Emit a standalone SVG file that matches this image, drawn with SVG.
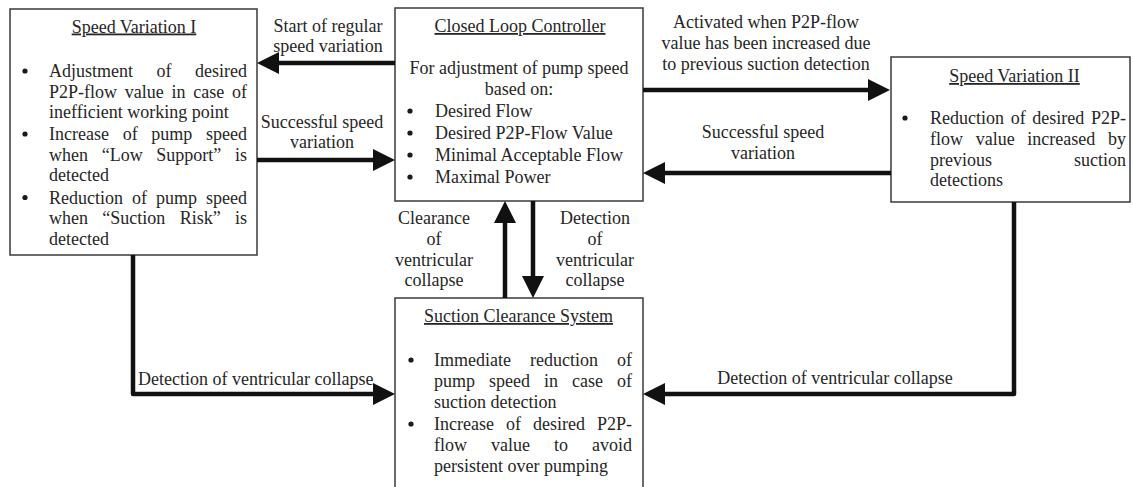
<svg xmlns="http://www.w3.org/2000/svg" width="1133" height="487" viewBox="0 0 1133 487">
  <style>
    text { font-family: "Liberation Serif", "Times New Roman", serif; font-size: 18px; fill: #262626; }
    .title { text-anchor: middle; text-decoration: underline; }
    .mid { text-anchor: middle; }
    .end { text-anchor: end; }
    .box { fill: #ffffff; stroke: #3a3a3a; stroke-width: 1.5; }
    .bullet { fill: #1a1a1a; }
    .conn { fill: none; stroke: #111111; stroke-width: 4.5; stroke-linejoin: round; }
  </style>
  <defs>
    <marker id="head" markerUnits="userSpaceOnUse" markerWidth="22" markerHeight="22" refX="12" refY="11" orient="auto">
      <path d="M0,0 L22,11 L0,22 Z" fill="#111111"/>
    </marker>
  </defs>
  <rect width="1133" height="487" fill="#ffffff"/>

  <!-- Speed Variation I -->
  <g id="speed-variation-1">
    <rect class="box" x="10" y="9" width="247" height="246"/>
    <text class="title" x="134" y="32.5">Speed Variation I</text>
    <circle class="bullet" cx="25" cy="71" r="2.6"/>
    <text y="77"><tspan x="49">Adjustment</tspan><tspan x="156.5">of</tspan></text>
    <text class="end" x="247" y="77">desired</text>
    <text y="97.5"><tspan x="49">P2P-flow</tspan><tspan x="124.75">value</tspan><tspan x="171.5">in</tspan><tspan x="193.25">case</tspan></text>
    <text class="end" x="247" y="97.5">of</text>
    <text x="49" y="118">inefficient working point</text>
    <circle class="bullet" cx="25" cy="134" r="2.6"/>
    <text y="140"><tspan x="49">Increase</tspan><tspan x="122.67">of</tspan><tspan x="151.33">pump</tspan></text>
    <text class="end" x="247" y="140">speed</text>
    <text y="160.5"><tspan x="49">when</tspan><tspan x="101.67">“Low</tspan><tspan x="156.33">Support”</tspan></text>
    <text class="end" x="247" y="160.5">is</text>
    <text x="49" y="181">detected</text>
    <circle class="bullet" cx="25" cy="197.5" r="2.6"/>
    <text y="203.5"><tspan x="49">Reduction</tspan><tspan x="132">of</tspan><tspan x="156">pump</tspan></text>
    <text class="end" x="247" y="203.5">speed</text>
    <text y="224"><tspan x="49">when</tspan><tspan x="102.33">“Suction</tspan><tspan x="179.67">Risk”</tspan></text>
    <text class="end" x="247" y="224">is</text>
    <text x="49" y="244.5">detected</text>
  </g>

  <!-- Closed Loop Controller -->
  <g id="closed-loop-controller">
    <rect class="box" x="395" y="8" width="248" height="193"/>
    <text class="title" x="520" y="32">Closed Loop Controller</text>
    <text class="mid" x="519" y="74">For adjustment of pump speed</text>
    <text class="mid" x="519" y="95">based on:</text>
    <circle class="bullet" cx="410" cy="111" r="2.6"/>
    <text x="435" y="117">Desired Flow</text>
    <circle class="bullet" cx="410" cy="133" r="2.6"/>
    <text x="435" y="139">Desired P2P-Flow Value</text>
    <circle class="bullet" cx="410" cy="155" r="2.6"/>
    <text x="435" y="161">Minimal Acceptable Flow</text>
    <circle class="bullet" cx="410" cy="177" r="2.6"/>
    <text x="435" y="183">Maximal Power</text>
  </g>

  <!-- Speed Variation II -->
  <g id="speed-variation-2">
    <rect class="box" x="891" y="57" width="239" height="145"/>
    <text class="title" x="1014.5" y="82">Speed Variation II</text>
    <circle class="bullet" cx="905" cy="118" r="2.6"/>
    <text y="124"><tspan x="930">Reduction</tspan><tspan x="1010.67">of</tspan><tspan x="1032.33">desired</tspan></text>
    <text class="end" x="1126" y="124">P2P-</text>
    <text y="145"><tspan x="930">flow</tspan><tspan x="975.67">value</tspan><tspan x="1027.33">increased</tspan></text>
    <text class="end" x="1126" y="145">by</text>
    <text x="930" y="165.5">previous</text>
    <text class="end" x="1126" y="165.5">suction</text>
    <text x="930" y="186">detections</text>
  </g>

  <!-- Suction Clearance System -->
  <g id="suction-clearance-system">
    <rect class="box" x="395" y="298" width="248" height="200"/>
    <text class="title" x="518.5" y="322">Suction Clearance System</text>
    <circle class="bullet" cx="411" cy="360" r="2.6"/>
    <text y="366"><tspan x="434">Immediate</tspan><tspan x="530">reduction</tspan></text>
    <text class="end" x="632" y="366">of</text>
    <text y="387"><tspan x="434">pump</tspan><tspan x="489">speed</tspan><tspan x="544">in</tspan><tspan x="572">case</tspan></text>
    <text class="end" x="632" y="387">of</text>
    <text x="434" y="407.5">suction detection</text>
    <circle class="bullet" cx="411" cy="424" r="2.6"/>
    <text y="430"><tspan x="434">Increase</tspan><tspan x="506">of</tspan><tspan x="533">desired</tspan></text>
    <text class="end" x="632" y="430">P2P-</text>
    <text y="451"><tspan x="434">flow</tspan><tspan x="491">value</tspan><tspan x="554">to</tspan></text>
    <text class="end" x="632" y="451">avoid</text>
    <text x="434" y="472">persistent over pumping</text>
  </g>

  <!-- Connectors -->
  <g id="connectors">
    <path class="conn" d="M395,63 L267,63" marker-end="url(#head)"/>
    <path class="conn" d="M257,160 L385,160" marker-end="url(#head)"/>
    <path class="conn" d="M643,90 L880,90" marker-end="url(#head)"/>
    <path class="conn" d="M891,173 L653,173" marker-end="url(#head)"/>
    <path class="conn" d="M505,298 L505,211" marker-end="url(#head)"/>
    <path class="conn" d="M533,201 L533,288" marker-end="url(#head)"/>
    <path class="conn" d="M133,255 L133,394 L385,394" marker-end="url(#head)"/>
    <path class="conn" d="M1014,202 L1014,394 L653,394" marker-end="url(#head)"/>
  </g>

  <!-- Connector labels -->
  <g id="connector-labels">
    <text class="mid" x="328" y="32">Start of regular</text>
    <text class="mid" x="328" y="52">speed variation</text>
    <text class="mid" x="322" y="128">Successful speed</text>
    <text class="mid" x="322" y="148">variation</text>
    <text class="mid" x="766" y="28">Activated when P2P-flow</text>
    <text class="mid" x="766" y="49">value has been increased due</text>
    <text class="mid" x="766" y="70">to previous suction detection</text>
    <text class="mid" x="763" y="138">Successful speed</text>
    <text class="mid" x="763" y="159">variation</text>
    <text class="mid" x="434" y="224">Clearance</text>
    <text class="mid" x="434" y="245">of</text>
    <text class="mid" x="434" y="266">ventricular</text>
    <text class="mid" x="434" y="286">collapse</text>
    <text class="mid" x="595" y="224">Detection</text>
    <text class="mid" x="595" y="245">of</text>
    <text class="mid" x="595" y="266">ventricular</text>
    <text class="mid" x="595" y="286">collapse</text>
    <text x="138" y="385">Detection of ventricular collapse</text>
    <text class="mid" x="835" y="384">Detection of ventricular collapse</text>
  </g>
</svg>
